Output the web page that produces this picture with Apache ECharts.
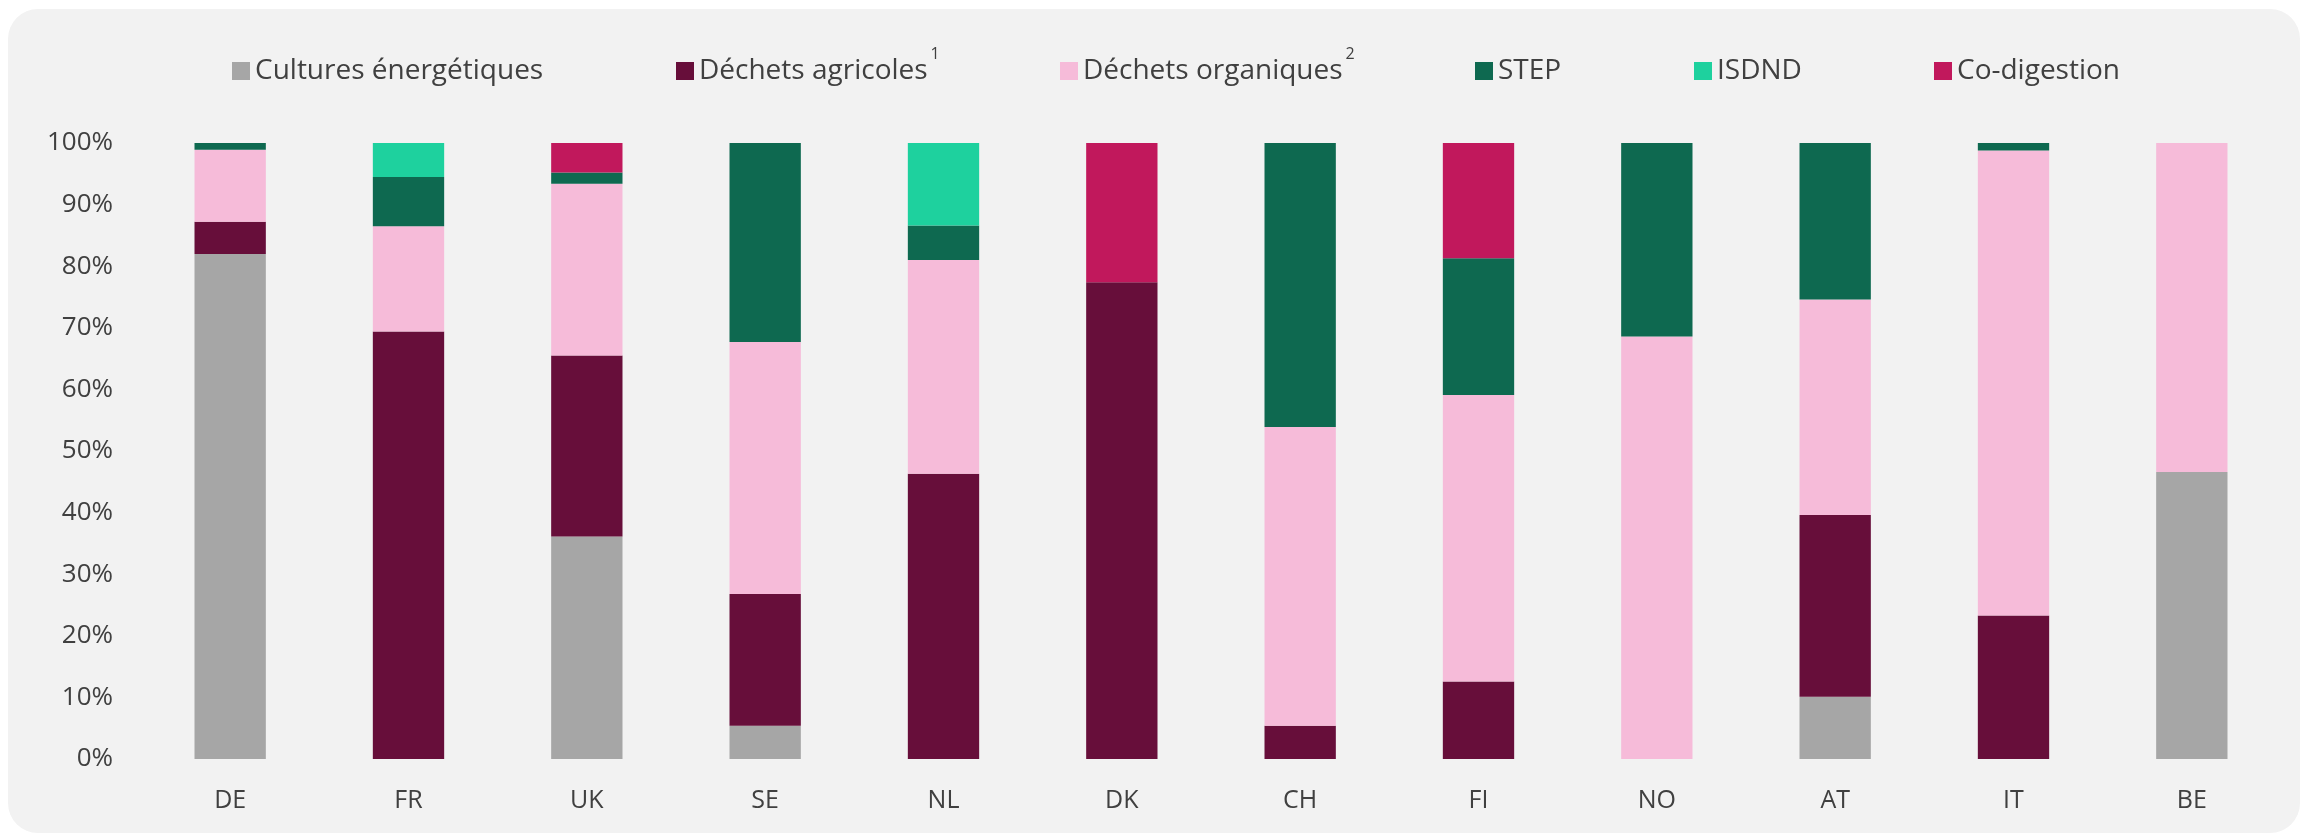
<!DOCTYPE html>
<html>
<head>
<meta charset="utf-8">
<script src="https://cdn.jsdelivr.net/npm/echarts@6/dist/echarts.min.js"></script>
<style>
  html, body { margin: 0; padding: 0; background: #ffffff; }
  #frame { position: absolute; left: 8px; top: 9px; width: 2292px; height: 824px; border-radius: 30px; background: #F2F2F2; }
  #chart { position: absolute; left: 0; top: 0; width: 2307px; height: 835px; }
</style>
</head>
<body>
<div id="frame"></div>
<div id="chart"></div>
<script>
// ---- data ----
const countries = ['DE', 'FR', 'UK', 'SE', 'NL', 'DK', 'CH', 'FI', 'NO', 'AT', 'IT', 'BE'];
const seriesNames = ['Cultures énergétiques', 'Déchets agricoles', 'Déchets organiques', 'STEP', 'ISDND', 'Co-digestion'];
const superscripts = ['', '1', '2', '', '', ''];
const cultures   = [82.0, 0, 36.1, 5.4, 0, 0, 0, 0, 0, 10.1, 0, 46.6];
const agricoles  = [5.2, 69.4, 29.4, 21.4, 46.3, 77.4, 5.4, 12.6, 0, 29.5, 23.3, 0];
const organiques = [11.7, 17.1, 27.9, 40.9, 34.7, 0, 48.5, 46.5, 68.6, 35.0, 75.5, 53.4];
const step       = [1.1, 8.0, 1.8, 32.3, 5.6, 0, 46.1, 22.2, 31.4, 25.4, 1.2, 0];
const isdnd      = [0, 5.5, 0, 0, 13.4, 0, 0, 0, 0, 0, 0, 0];
const codigestion= [0, 0, 4.8, 0, 0, 22.6, 0, 18.7, 0, 0, 0, 0];
const yTicks = [0, 10, 20, 30, 40, 50, 60, 70, 80, 90, 100];

// ---- styles / layout ----
const colors = ['#A6A6A6', '#670E3A', '#F6BBD9', '#0E6950', '#1ED19E', '#C1185C'];
const legendLefts = [232, 676, 1060, 1475, 1694, 1934];
const FONT = '"Open Sans", sans-serif';
const TXT = '#404040';

const allSeries = [cultures, agricoles, organiques, step, isdnd, codigestion];

const chart = echarts.init(document.getElementById('chart'), null, { renderer: 'canvas' });

const option = {
  backgroundColor: 'transparent',
  animation: false,
  textStyle: { fontFamily: FONT },
  legend: seriesNames.map((n, i) => ({
    data: [n],
    left: legendLefts[i],
    top: 46,
    padding: 0,
    itemWidth: 18,
    itemHeight: 18,
    icon: 'rect',
    selectedMode: false,
    formatter: (name) => {
      const k = seriesNames.indexOf(name);
      return '{t|' + name + '}{s|' + (superscripts[k] || ' ') + '}';
    },
    textStyle: {
      color: TXT,
      fontFamily: FONT,
      fontSize: 28,
      rich: {
        t: { fontSize: 28, color: TXT, fontFamily: FONT, verticalAlign: 'middle', lineHeight: 50 },
        s: { fontSize: 16, color: TXT, fontFamily: FONT, verticalAlign: 'top', lineHeight: 18, padding: [0, 0, 0, 3] }
      }
    }
  })),
  grid: { left: 141, right: 26, top: 143, bottom: 76, containLabel: false },
  xAxis: {
    type: 'category',
    data: countries,
    axisLine: { show: false },
    axisTick: { show: false },
    axisLabel: { color: TXT, fontFamily: FONT, fontSize: 25, margin: 29 }
  },
  yAxis: {
    type: 'value',
    min: yTicks[0],
    max: yTicks[yTicks.length - 1],
    interval: yTicks[1] - yTicks[0],
    splitLine: { show: false },
    axisLine: { show: false },
    axisTick: { show: false },
    axisLabel: { color: TXT, fontFamily: FONT, fontSize: 26, margin: 28, formatter: '{value}%' }
  },
  series: seriesNames.map((n, i) => ({
    name: n,
    type: 'bar',
    stack: 'total',
    barWidth: '40%',
    data: allSeries[i].map(v => (v === 0 ? null : v)),
    itemStyle: { color: colors[i] }
  }))
};

chart.setOption(option);
</script>
</body>
</html>
